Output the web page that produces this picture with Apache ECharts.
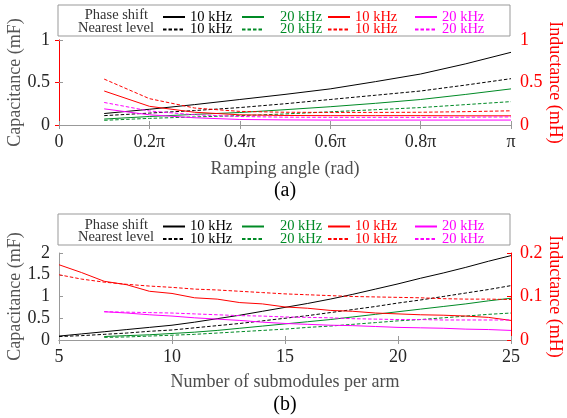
<!DOCTYPE html>
<html>
<head>
<meta charset="utf-8">
<script src="https://cdn.jsdelivr.net/npm/echarts@6/dist/echarts.min.js"></script>
<style>
html, body { margin: 0; padding: 0; background: #fff; }
#main { width: 567px; height: 418px; }
</style>
</head>
<body>
<div id="main"></div>
<script>
var FONT = '"Times New Roman", "Liberation Serif", Tinos, "DejaVu Serif", serif';
var GREY = '#999999';
var C_BLACK = '#000000', C_GREEN = '#008a25', C_RED = '#ff0000', C_MAG = '#ff00ff';

// (a) ramping angle, in units of pi
var angle = [0.1, 0.2, 0.3, 0.4, 0.5, 0.6, 0.7, 0.8, 0.9, 1.0];
var aCapPs10 = [0.135, 0.185, 0.24, 0.30, 0.36, 0.425, 0.51, 0.60, 0.72, 0.855];
var aCapNl10 = [0.11, 0.14, 0.17, 0.205, 0.25, 0.30, 0.35, 0.40, 0.47, 0.545];
var aCapPs20 = [0.07, 0.10, 0.125, 0.147, 0.18, 0.215, 0.255, 0.30, 0.36, 0.425];
var aCapNl20 = [0.055, 0.078, 0.095, 0.11, 0.13, 0.155, 0.18, 0.205, 0.24, 0.275];
var aIndPs10 = [0.40, 0.22, 0.15, 0.12, 0.112, 0.11, 0.11, 0.11, 0.108, 0.108];
var aIndNl10 = [0.54, 0.31, 0.20, 0.16, 0.15, 0.148, 0.148, 0.15, 0.157, 0.167];
var aIndPs20 = [0.19, 0.12, 0.085, 0.065, 0.06, 0.058, 0.058, 0.058, 0.058, 0.058];
var aIndNl20 = [0.265, 0.165, 0.12, 0.10, 0.092, 0.09, 0.09, 0.09, 0.092, 0.095];
var angleTicks = ['0', '0.2π', '0.4π', '0.6π', '0.8π', 'π'];

// (b) number of submodules per arm
var smods10 = [5, 6, 7, 8, 9, 10, 11, 12, 13, 14, 15, 16, 17, 18, 19, 20, 21, 22, 23, 24, 25];
var smods20 = [7, 8, 9, 10, 11, 12, 13, 14, 15, 16, 17, 18, 19, 20, 21, 22, 23, 24, 25];
var bCapPs10 = [0.09, 0.14, 0.19, 0.24, 0.29, 0.34, 0.41, 0.49, 0.57, 0.66, 0.75, 0.84, 0.94, 1.05, 1.17, 1.29, 1.42, 1.54, 1.67, 1.81, 1.94];
var bCapNl10 = [0.08, 0.10, 0.13, 0.16, 0.20, 0.23, 0.28, 0.33, 0.38, 0.44, 0.50, 0.56, 0.63, 0.70, 0.77, 0.85, 0.92, 1.00, 1.08, 1.16, 1.25];
var bCapPs20 = [0.08, 0.10, 0.12, 0.15, 0.18, 0.22, 0.27, 0.32, 0.37, 0.42, 0.47, 0.53, 0.59, 0.65, 0.71, 0.77, 0.83, 0.90, 0.96];
var bCapNl20 = [0.06, 0.07, 0.09, 0.11, 0.13, 0.16, 0.19, 0.22, 0.25, 0.29, 0.32, 0.36, 0.40, 0.44, 0.47, 0.51, 0.55, 0.59, 0.62];
var bIndPs10 = [0.173, 0.155, 0.135, 0.127, 0.112, 0.107, 0.097, 0.094, 0.086, 0.083, 0.076, 0.073, 0.068, 0.066, 0.062, 0.060, 0.058, 0.057, 0.055, 0.052, 0.045];
var bIndNl10 = [0.150, 0.140, 0.133, 0.128, 0.124, 0.121, 0.117, 0.115, 0.112, 0.109, 0.106, 0.104, 0.102, 0.100, 0.099, 0.098, 0.097, 0.095, 0.094, 0.094, 0.093];
var bIndPs20 = [0.065, 0.062, 0.058, 0.055, 0.051, 0.048, 0.045, 0.041, 0.038, 0.036, 0.034, 0.033, 0.031, 0.029, 0.028, 0.027, 0.025, 0.024, 0.022];
var bIndNl20 = [0.065, 0.064, 0.063, 0.062, 0.060, 0.058, 0.056, 0.055, 0.053, 0.052, 0.051, 0.049, 0.048, 0.047, 0.047, 0.046, 0.046, 0.046, 0.046];

var legendLabels = {
    ps10c: '10 kHz', nl10c: '10 kHz', ps20c: '   20 kHz', nl20c: '   20 kHz',
    ps10l: '10 kHz', nl10l: '10 kHz', ps20l: '20 kHz', nl20l: '20 kHz'
};

function pairs(xs, ys) {
    return xs.map(function (x, i) { return [x, ys[i]]; });
}

function line(name, xs, ys, color, dashed, xi, yi) {
    return {
        name: name, type: 'line', xAxisIndex: xi, yAxisIndex: yi,
        data: pairs(xs, ys), symbol: 'none', showSymbol: false, animation: false,
        lineStyle: { color: color, width: 1, type: dashed ? [3.5, 2] : 'solid' },
        itemStyle: { color: color }
    };
}

function legendCol(prefix, left, top, names, color) {
    return {
        orient: 'vertical', left: left, top: top, padding: 0,
        itemWidth: 22, itemHeight: 12, itemGap: -2.5,
        data: names.map(function (n) { return prefix + n; }),
        formatter: function (n) { return legendLabels[n.slice(1)]; },
        textStyle: { color: color, fontFamily: FONT, fontSize: 14.5, lineHeight: 12 },
        lineStyle: { width: 2 },
        itemStyle: { opacity: 0, borderWidth: 0 },
        selectedMode: false
    };
}

function txt(color, size) {
    return { color: color, fontFamily: FONT, fontSize: size, fontStyle: 'normal', fontWeight: 'normal' };
}

function xAxis(grid, min, max, interval, fmt, name, gap) {
    var lab = txt('#262626', 18);
    lab.margin = 8;
    if (fmt) lab.formatter = fmt;
    return [{
        type: 'value', gridIndex: grid, min: min, max: max, interval: interval,
        name: name, nameLocation: 'middle', nameGap: gap, nameMoveOverlap: false,
        nameTextStyle: txt('#4d4d4d', 18),
        axisLine: { lineStyle: { color: GREY } },
        axisTick: { inside: true, length: 4, lineStyle: { color: GREY } },
        axisLabel: lab,
        splitLine: { show: false }
    }, {
        type: 'value', gridIndex: grid, position: 'top', min: min, max: max, interval: interval,
        axisLine: { lineStyle: { color: GREY } },
        axisTick: { inside: true, length: 4, lineStyle: { color: GREY } },
        axisLabel: { show: false },
        splitLine: { show: false }
    }];
}

function yAxes(grid, lmax, linterval, rmax, rinterval) {
    var labL = txt('#262626', 18);
    labL.margin = 9;
    var labR = txt(C_RED, 18);
    labR.margin = 9;
    return [{
        type: 'value', gridIndex: grid, position: 'left', min: 0, max: lmax, interval: linterval,
        name: 'Capacitance (mF)', nameLocation: 'middle', nameGap: 35, nameMoveOverlap: false,
        nameTextStyle: txt('#555555', 18),
        axisLine: { show: true, lineStyle: { color: GREY } },
        axisTick: { show: true, inside: true, length: 4, lineStyle: { color: GREY } },
        axisLabel: labL,
        splitLine: { show: false }
    }, {
        type: 'value', gridIndex: grid, position: 'right', min: 0, max: rmax, interval: rinterval,
        name: 'Inductance (mH)', nameLocation: 'middle', nameGap: 35, nameRotate: -90, nameMoveOverlap: false,
        nameTextStyle: txt(C_RED, 18),
        axisLine: { show: true, lineStyle: { color: C_RED } },
        axisTick: { show: true, inside: true, length: 4, lineStyle: { color: C_RED } },
        axisLabel: labR,
        splitLine: { show: false }
    }];
}

var xa = xAxis(0, 0, 1, 0.2, function (v) { return angleTicks[Math.round(v / 0.2)]; }, 'Ramping angle (rad)', 35);
var xb = xAxis(1, 5, 25, 5, null, 'Number of submodules per arm', 33);
var ya = yAxes(0, 1, 0.5, 1, 0.5);
var yb = yAxes(1, 2, 0.5, 0.2, 0.1);

var legendTopA = 9.5, legendTopB = 219;
var cols = [
    [['ps10c', 'nl10c'], 162, C_BLACK],
    [['ps20c', 'nl20c'], 241, C_GREEN],
    [['ps10l', 'nl10l'], 327, C_RED],
    [['ps20l', 'nl20l'], 414, C_MAG]
];
var legends = [];
cols.forEach(function (c) {
    legends.push(legendCol('a', c[1], legendTopA, c[0], c[2]));
    legends.push(legendCol('b', c[1], legendTopB, c[0], c[2]));
});

function boxText(x, y, text, align) {
    return { type: 'text', x: x, y: y, style: { text: text, fill: '#333333', fontFamily: FONT, fontSize: 14.5, align: align, verticalAlign: 'middle' } };
}

var myChart = echarts.init(document.getElementById('main'), null, { renderer: 'canvas' });

var option = {
    animation: false,
    backgroundColor: '#ffffff',
    textStyle: { fontFamily: FONT },
    grid: [
        { left: 59, right: 56, top: 40, height: 85, outerBoundsMode: 'none' },
        { left: 59, right: 56, top: 253, height: 87, outerBoundsMode: 'none' }
    ],
    xAxis: xa.concat(xb),
    yAxis: ya.concat(yb),
    legend: legends,
    graphic: [
        { type: 'rect', shape: { x: 58, y: 5, width: 452, height: 31 }, style: { fill: '#fff', stroke: GREY, lineWidth: 1 }, z: -1 },
        { type: 'rect', shape: { x: 58, y: 214, width: 452, height: 31 }, style: { fill: '#fff', stroke: GREY, lineWidth: 1 }, z: -1 },
        boxText(148, 15.5, 'Phase shift', 'right'),
        boxText(154, 28, 'Nearest level', 'right'),
        boxText(148, 225, 'Phase shift', 'right'),
        boxText(154, 237.5, 'Nearest level', 'right'),
        { type: 'text', x: 285, y: 191, style: { text: '(a)', fill: '#000', fontFamily: FONT, fontSize: 20, align: 'center', verticalAlign: 'middle' } },
        { type: 'text', x: 285, y: 405, style: { text: '(b)', fill: '#000', fontFamily: FONT, fontSize: 20, align: 'center', verticalAlign: 'middle' } }
    ],
    series: [
        line('aps10c', angle, aCapPs10, C_BLACK, false, 0, 0),
        line('anl10c', angle, aCapNl10, C_BLACK, true, 0, 0),
        line('aps20c', angle, aCapPs20, C_GREEN, false, 0, 0),
        line('anl20c', angle, aCapNl20, C_GREEN, true, 0, 0),
        line('aps10l', angle, aIndPs10, C_RED, false, 0, 1),
        line('anl10l', angle, aIndNl10, C_RED, true, 0, 1),
        line('aps20l', angle, aIndPs20, C_MAG, false, 0, 1),
        line('anl20l', angle, aIndNl20, C_MAG, true, 0, 1),
        line('bps10c', smods10, bCapPs10, C_BLACK, false, 2, 2),
        line('bnl10c', smods10, bCapNl10, C_BLACK, true, 2, 2),
        line('bps20c', smods20, bCapPs20, C_GREEN, false, 2, 2),
        line('bnl20c', smods20, bCapNl20, C_GREEN, true, 2, 2),
        line('bps10l', smods10, bIndPs10, C_RED, false, 2, 3),
        line('bnl10l', smods10, bIndNl10, C_RED, true, 2, 3),
        line('bps20l', smods20, bIndPs20, C_MAG, false, 2, 3),
        line('bnl20l', smods20, bIndNl20, C_MAG, true, 2, 3)
    ]
};

myChart.setOption(option);
</script>
</body>
</html>
